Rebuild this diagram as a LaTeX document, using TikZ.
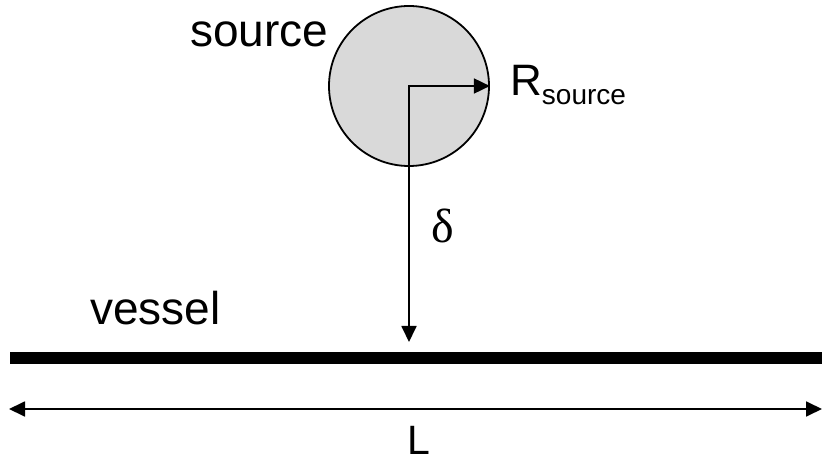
\documentclass[tikz,border=0pt]{standalone}
\usepackage{fontspec}
\setmainfont{Liberation Sans}
\newfontfamily\deltafont{Liberation Serif}
\usetikzlibrary{arrows.meta}

\tikzset{
  label text/.style={inner sep=0pt, anchor=base west, font=\fontsize{44pt}{50pt}\selectfont},
  dim line/.style={line width=1.8pt, {Triangle[length=16pt,width=15pt]}-{Triangle[length=16pt,width=15pt]}}
}

\begin{document}
\begin{tikzpicture}[x=1pt, y=-1pt]
\useasboundingbox (0,0) rectangle (822,462);

% source
\node[circle, draw, line width=1.8pt, fill={rgb,255:red,217;green,217;blue,217}, minimum size=160pt, inner sep=0pt] (src) at (409,86) {};
\node[label text, font=\fontsize{46pt}{50pt}\selectfont] (srclabel) at (190,47) {source};

% radius
\node[label text] (rlabel) at (510,96) {R\raisebox{-9pt}{\fontsize{28pt}{30pt}\selectfont source}};

% vessel
\fill (10,352) rectangle (822,364);
\node[label text, font=\fontsize{46pt}{50pt}\selectfont] (vessellabel) at (90,325) {vessel};

% distance
\coordinate (tip) at (409,342);
\draw[dim line] (src.east) -- (src.center) -- (tip);
\node[label text, font=\fontsize{48pt}{50pt}\deltafont] (dlabel) at (431,243) {δ};

% length
\coordinate (Lleft) at (9,409);
\coordinate (Lright) at (822,409);
\draw[dim line] (Lleft) -- (Lright);
\node[label text, font=\fontsize{41pt}{50pt}\selectfont] (llabel) at (407,454) {L};

\end{tikzpicture}
\end{document}
